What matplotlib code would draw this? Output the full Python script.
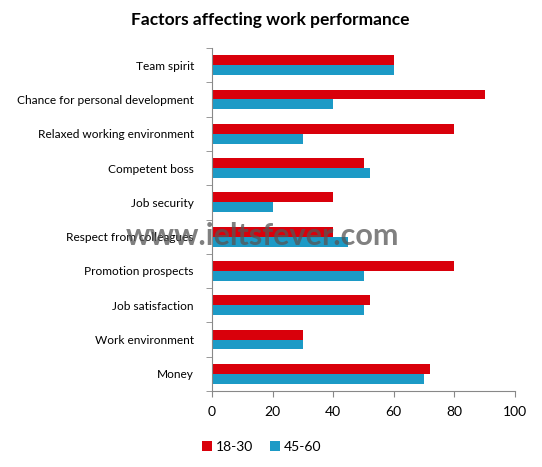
import matplotlib
matplotlib.use("Agg")
import matplotlib.pyplot as plt
import numpy as np

categories = ["Team spirit", "Chance for personal development", "Relaxed working environment",
              "Competent boss", "Job security", "Respect from colleagues", "Promotion prospects",
              "Job satisfaction", "Work environment", "Money"]
young = [60, 90, 80, 50, 40, 40, 80, 52, 30, 72]
older = [60, 40, 30, 52, 20, 45, 50, 50, 30, 70]
series_names = ["18-30", "45-60"]
xticks = [0, 20, 40, 60, 80, 100]

plt.rcParams['font.family'] = ['Lato', 'DejaVu Sans']

fig = plt.figure(figsize=(5.42, 4.67), dpi=100)
W, H = 542, 467
ax = fig.add_axes([212 / W, 1 - 391 / H, (515 - 212) / W, (391 - 48) / H])

n = len(categories)
pos = np.arange(n)[::-1]
h = 0.29
red = "#D9000B"
blue = "#1C9AC6"
ax.barh(pos + h / 2, young, height=h, color=red, label=series_names[0])
ax.barh(pos - h / 2, older, height=h, color=blue, label=series_names[1])

ax.set_xlim(0, 100)
ax.set_ylim(-0.5, n - 0.5)
ax.set_xticks(xticks)
ax.set_xticklabels([str(t) for t in xticks], fontsize=10)
ax.set_yticks(pos)
ax.set_yticklabels(categories, fontsize=8.6)
ax.set_yticks(np.arange(n + 1) - 0.5, minor=True)
ax.tick_params(axis='y', which='major', length=0, pad=13)
ax.tick_params(axis='y', which='minor', length=4, color="#888888", direction='out')
ax.tick_params(axis='x', which='major', length=4, color="#888888", direction='out', pad=7)
for s in ["top", "right"]:
    ax.spines[s].set_visible(False)
for s in ["left", "bottom"]:
    ax.spines[s].set_color("#888888")

fig.text(270 / W, 1 - 20 / H, "Factors affecting work performance", ha='center', va='center',
         fontsize=12.5, fontweight='bold')

leg = fig.legend(loc='center', bbox_to_anchor=(262 / W, 1 - 447 / H), ncol=2, frameon=False,
                 fontsize=10, handlelength=0.7, handleheight=0.7, handletextpad=0.3, columnspacing=1.2)

fig.text(262 / W, 1 - 236 / H, "www.ieltsfever.com", ha='center', va='center', fontsize=22,
         fontweight='bold', color="#555555", alpha=0.75)

fig.savefig("out.png", dpi=100)
